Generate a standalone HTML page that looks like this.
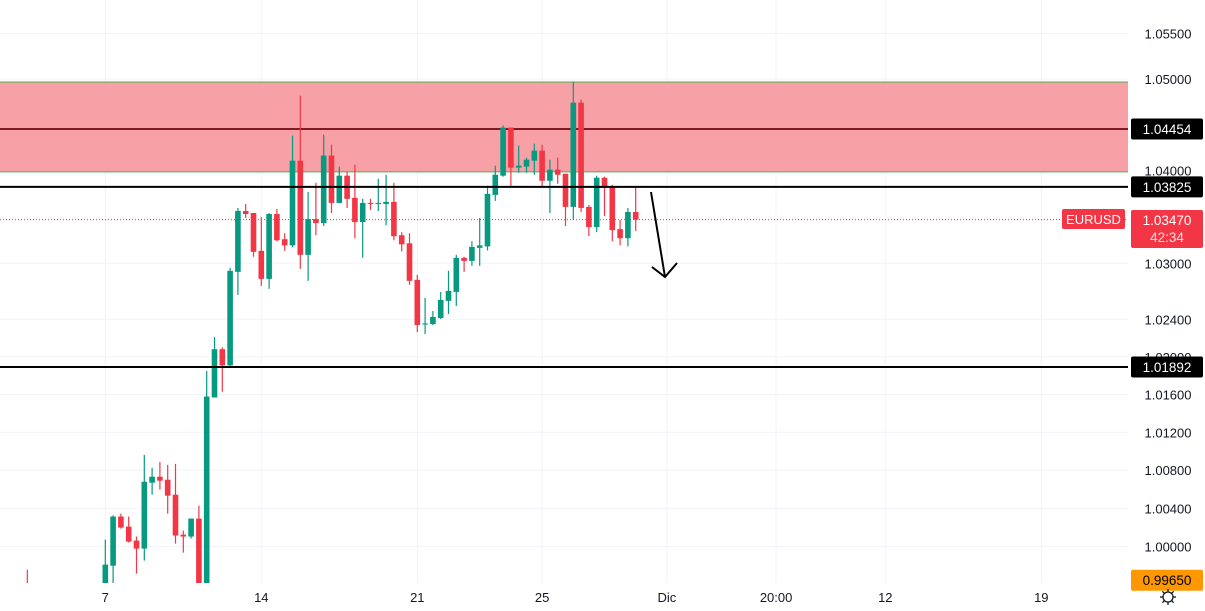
<!DOCTYPE html>
<html><head><meta charset="utf-8"><style>
html,body{margin:0;padding:0;background:#fff;}
svg{display:block;font-family:"Liberation Sans",sans-serif;}
</style></head><body>
<svg id="chart" width="1205" height="611">
</svg>
<script>
const opens=[0.9958,0.9950,0.9948,0.9940,0.9945,0.9942,0.9938,0.9944,0.9940,0.9946,0.9950,0.99801,1.00314,1.00209,1.00063,0.99979,1.00669,1.00732,1.00700,1.00543,1.00125,1.00105,1.00293,0.9962,1.01568,1.02081,1.01909,1.02908,1.03564,1.03542,1.03134,1.02833,1.03531,1.03259,1.03193,1.04109,1.03091,1.03477,1.03433,1.04164,1.03651,1.03946,1.03706,1.03444,1.03651,1.03640,1.03640,1.03662,1.03302,1.03215,1.02822,1.02344,1.02349,1.02414,1.02597,1.02693,1.03059,1.03026,1.03166,1.03182,1.03738,1.03946,1.04469,1.04033,1.04044,1.04109,1.04218,1.03891,1.04011,1.03967,1.03608,1.04741,1.03608,1.03390,1.03924,1.03826,1.03368,1.03270,1.03553];
const highs=[0.9976,0.9955,0.9952,0.9948,0.9950,0.9949,0.9946,0.9950,0.9948,0.9952,1.00073,1.00327,1.00345,1.00314,1.00105,1.00961,1.00826,1.00888,1.00857,1.00867,1.00167,1.00293,1.00428,1.01850,1.02210,1.02102,1.02951,1.03597,1.03640,1.03542,1.03499,1.03542,1.03586,1.03324,1.04382,1.04818,1.03771,1.03869,1.04392,1.04283,1.04044,1.03989,1.04065,1.03695,1.03695,1.03913,1.03956,1.03869,1.03335,1.03324,1.02876,1.02629,1.02489,1.02693,1.02919,1.03091,1.03070,1.03237,1.03488,1.03837,1.04055,1.04491,1.04469,1.04273,1.04142,1.04294,1.04283,1.04120,1.04142,1.03967,1.04970,1.04774,1.03629,1.03946,1.03935,1.03847,1.03466,1.03597,1.03815];
const lows=[0.9950,0.9940,0.9938,0.9935,0.9936,0.9934,0.9932,0.9936,0.9934,0.9938,0.9945,0.9960,1.00188,1.00042,0.99718,0.99854,1.00543,1.00596,1.00345,1.00031,0.99937,1.00084,0.9955,0.9958,1.01568,1.01629,1.01887,1.02661,1.03488,1.03070,1.02757,1.02726,1.03237,1.03134,1.03172,1.02941,1.02812,1.03302,1.03401,1.03542,1.03651,1.03597,1.03270,1.03059,1.03575,1.03564,1.03411,1.03248,1.03128,1.02769,1.02263,1.02242,1.02339,1.02403,1.02457,1.02543,1.02908,1.02973,1.02973,1.03139,1.03673,1.03935,1.03815,1.03978,1.03978,1.03956,1.03826,1.03542,1.03858,1.03401,1.03466,1.03553,1.03292,1.03335,1.03510,1.03237,1.03193,1.03182,1.03346];
const closes=[0.9952,0.9944,0.9942,0.9946,0.9940,0.9944,0.9942,0.9946,0.9944,0.9948,0.99812,1.00314,1.00199,1.00052,0.99979,1.00679,1.00732,1.00690,1.00533,1.00115,1.00105,1.00293,0.9960,1.01578,1.02081,1.01909,1.02919,1.03564,1.03531,1.03123,1.02833,1.03531,1.03248,1.03193,1.04109,1.03091,1.03477,1.03433,1.04164,1.03651,1.03946,1.03695,1.03444,1.03651,1.03640,1.03651,1.03662,1.03292,1.03204,1.02812,1.02339,1.02355,1.02425,1.02607,1.02704,1.03059,1.03026,1.03177,1.03193,1.03749,1.03956,1.04469,1.04033,1.04055,1.04120,1.04218,1.03891,1.04011,1.03956,1.03608,1.04741,1.03597,1.03390,1.03924,1.03815,1.03357,1.03270,1.03553,1.0347];
const priceTicks=["1.05500","1.05000","1.04000","1.03000","1.02400","1.02000","1.01600","1.01200","1.00800","1.00400","1.00000"];
const timeLabels=["7","14","21","25","Dic","20:00","12","19"];
const timeIndex=[10,30,50,66,82,96,110,130];
const zoneTop=1.04967, zoneBottom=1.03987;
const levels=[1.04454,1.03825,1.01892];
const lastPrice=1.0347;

const NS="http://www.w3.org/2000/svg";
const svg=document.getElementById('chart');
const PW=1128, PB=583;
function y(p){return 546.6-9584*Math.log(p);}
function x(i){return 27.3+7.8*i;}
function el(tag,attrs,parent){const e=document.createElementNS(NS,tag);for(const k in attrs)e.setAttribute(k,attrs[k]);(parent||svg).appendChild(e);return e;}

const clip=el('clipPath',{id:'pc'});el('rect',{x:0,y:0,width:PW,height:PB},clip);
const grid=el('g',{});


priceTicks.forEach(t=>{el('line',{x1:0,x2:PW,y1:y(+t),y2:y(+t),stroke:'#f0f3fa','stroke-width':1},grid);});
timeIndex.forEach(i=>{el('line',{x1:x(i),x2:x(i),y1:0,y2:PB,stroke:'#f0f3fa','stroke-width':1},grid);});

const plot=el('g',{'clip-path':'url(#pc)'});
const zone=el('rect',{x:0,y:y(zoneTop),width:PW,height:y(zoneBottom)-y(zoneTop),fill:'#f7a0a6'},plot);


el('line',{x1:0,x2:PW,y1:y(zoneTop),y2:y(zoneTop),stroke:'#4caf50','stroke-width':1},plot);
el('line',{x1:0,x2:PW,y1:y(zoneBottom),y2:y(zoneBottom),stroke:'#4caf50','stroke-width':1},plot);
const mid=el('line',{x1:0,x2:PW,y1:y(levels[0]),y2:y(levels[0]),stroke:'#801922','stroke-width':2},plot);


const dl=el('line',{x1:0,x2:PW,y1:y(lastPrice),y2:y(lastPrice),stroke:'#f23645','stroke-width':1,'stroke-dasharray':'1 2'},plot);



for(let i=0;i<opens.length;i++){
  const up=closes[i]>=opens[i];const col=up?'#089981':'#f23645';
  const g=el('g',{},plot);
  
  
  el('line',{x1:x(i),x2:x(i),y1:y(highs[i]),y2:y(lows[i]),stroke:col,'stroke-width':1.2},g);
  const t=y(Math.max(opens[i],closes[i])),b=y(Math.min(opens[i],closes[i]));
  el('rect',{x:x(i)-2.8,y:t,width:5.6,height:Math.max(1,b-t),fill:col},g);
}
[1,2].forEach(k=>{const l=el('line',{x1:0,x2:PW,y1:y(levels[k]),y2:y(levels[k]),stroke:'#000','stroke-width':2},plot);

});

const arrow=el('g',{fill:'none',stroke:'#000','stroke-width':2},plot);


el('line',{x1:651,y1:192,x2:665,y2:277},arrow);
el('polyline',{points:'652,267 665,277 677,263'},arrow);

const ax=el('g',{});


priceTicks.forEach(t=>{const tx=el('text',{x:1168,y:y(+t)+5,'text-anchor':'middle','font-size':13,fill:'#131722'},ax);tx.textContent=t;});
function tag(price,txt,bg,fg,name){const g=el('g',{},ax);
  
  
  const yy=y(price);el('rect',{x:1131,y:yy-10.5,width:72,height:21,rx:2,fill:bg},g);
  const t=el('text',{x:1167,y:yy+5,'text-anchor':'middle','font-size':13.5,fill:fg},g);t.textContent=txt;}
tag(levels[0],'1.04454','#000','#fff','level-tag-1');
tag(levels[1],'1.03825','#000','#fff','level-tag-2');
tag(levels[2],'1.01892','#000','#fff','level-tag-3');
tag(0.9965,'0.99650','#ff9800','#000','low-price-tag');
const rt=el('g',{},ax);


el('rect',{x:1131,y:210,width:72,height:38,rx:2,fill:'#f23645'},rt);
let t1=el('text',{x:1167,y:225,'text-anchor':'middle','font-size':13.5,fill:'#fff'},rt);t1.textContent='1.03470';
let t2=el('text',{x:1167,y:242,'text-anchor':'middle','font-size':13.5,fill:'#fdd'},rt);t2.textContent='42:34';
const sym=el('g',{});


el('rect',{x:1062,y:209,width:63,height:20,rx:2,fill:'#f23645'},sym);
let st=el('text',{x:1093.5,y:224,'text-anchor':'middle','font-size':13,fill:'#fff'},sym);st.textContent='EURUSD';

const tax=el('g',{});


timeLabels.forEach((s,k)=>{const t=el('text',{x:x(timeIndex[k]),y:602,'text-anchor':'middle','font-size':13,fill:'#131722'},tax);t.textContent=s;});
const gear=el('g',{fill:'none',stroke:'#131722','stroke-width':1.3});


el('circle',{cx:1168,cy:597,r:5},gear);
for(let a=0;a<8;a++){const r=a*Math.PI/4;el('line',{x1:1168+5*Math.cos(r),y1:597+5*Math.sin(r),x2:1168+8*Math.cos(r),y2:597+8*Math.sin(r)},gear);}
</script>
</body></html>
